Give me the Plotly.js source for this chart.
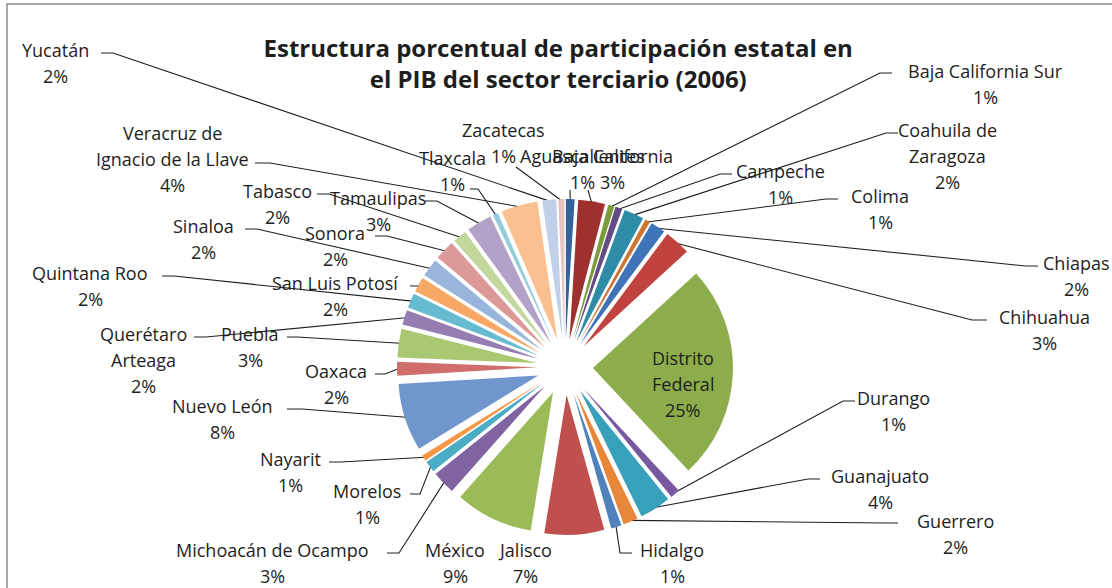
<!DOCTYPE html>
<html><head><meta charset="utf-8">
<script src="https://cdn.plot.ly/plotly-3.0.1.min.js"></script>
<style>html,body{margin:0;padding:0;background:#fff}#chart{width:1112px;height:588px}</style>
</head><body><div id="chart"></div>
<script>
// ---- data ----
const states = ["Aguascalientes","Baja California","Baja California Sur","Campeche","Coahuila de Zaragoza","Colima","Chiapas","Chihuahua","Distrito Federal","Durango","Guanajuato","Guerrero","Hidalgo","Jalisco","México","Michoacán de Ocampo","Morelos","Nayarit","Nuevo León","Oaxaca","Puebla","Querétaro Arteaga","Quintana Roo","San Luis Potosí","Sinaloa","Sonora","Tabasco","Tamaulipas","Tlaxcala","Veracruz de Ignacio de la Llave","Yucatán","Zacatecas"];
const shares = [1.0,3.1,0.7,0.8,2.3,0.6,1.7,3.0,24.9,1.1,3.6,1.7,1.2,6.9,9.0,2.7,1.3,0.7,7.8,1.6,3.3,1.7,1.7,1.7,2.1,2.3,1.6,2.9,0.6,4.2,1.6,0.7];
const chartTitle = ["Estructura porcentual de participación estatal en","el PIB del sector terciario (2006)"];

// ---- styles ----
const colors = ["#34629a","#9e302d","#7b9b3c","#634c82","#2f8ca6","#cc7632",
                "#3f74b8","#c0433f","#8dad4d","#7659a0","#38a0bb","#e8863a",
                "#4f81bd","#c0504d","#9bbb59","#8064a2","#4bacc6","#f79646",
                "#7096cd","#d06e6c","#aac772","#957db2","#67bbd1","#f8a765",
                "#9ab5dc","#dc9997","#c3d69b","#b3a2c7","#93cddd","#fac090",
                "#bfd0e8","#e8c4c2"];
const W = 1112, H = 588;
const PIE = {cx: 565, cy: 367, r: 140, pull: 0.2};
const pulls = states.map(() => PIE.pull);
// label layout: [centerX, firstLineY, anchorX, anchorY, elbowDx, wordsPerLine]  (anchorX null = no leader)
const labelLayout = [
  [582,156, 570,190, 0],
  [612,156, 588,190, 0],
  [985,71, 892,73, -12],
  [780,171, 732,174, -12],
  [947,130, 898,133, -12, [2,1]],
  [880,196, 838,199, -12],
  [1076,263, 1038,266, -12],
  [1044,317, 987,320, -15],
  null,
  [893,398, 855,401, -12],
  [880,476, 820,479, -12],
  [955,521, 898,523, -12],
  [672,550, 632,553, -12],
  [525,550, null],
  [455,550, null],
  [272,550, 387,553, 12],
  [367,491, 410,494, 10],
  [290,459, 329,462, 12],
  [222,406, 287,409, 15],
  [336,371, 375,374, 10],
  [250,334, 287,337, 10],
  [143,334, 194,337, 12, [1,1]],
  [90,273, 162,276, 12],
  [335,283, 410,286, 8],
  [203,226, 245,229, 12],
  [335,233, 375,236, 12],
  [277,191, 317,194, 12],
  [378,198, 425,201, 12],
  [452,158, 470,189, 8],
  [172,133, 255,163, 15, [2,4]],
  [55,50, 101,53, 12],
  [503,130, 516,167, 0]
];
const DF_TEXT = {radius: 0.62, dy: 12, dx: 3};
const LINE_GAP = 26;
const LABEL_FONT = {family: "'Open Sans', Lato, sans-serif", size: 18, color: "#1e1e1e"};

// ---- geometry ----
const total = shares.reduce((a, b) => a + b, 0);
const maxPull = Math.max(...pulls);
const box = PIE.r * (2 + 2 * maxPull);
const domain = {x: [(PIE.cx - box / 2) / W, (PIE.cx + box / 2) / W],
                y: [1 - (PIE.cy + box / 2) / H, 1 - (PIE.cy - box / 2) / H]};
let cum = 0;
const mids = shares.map(v => { const m = (cum + v / 2) / total * 2 * Math.PI; cum += v; return m; });
const pct = shares.map(v => Math.round(v / total * 100) + "%");
function polar(i, rad) {
  const a = mids[i];
  return [PIE.cx + rad * Math.sin(a), PIE.cy - rad * Math.cos(a)];
}
function wrapName(name, spec) {
  if (!spec) return [name];
  const w = name.split(" "); const out = []; let k = 0;
  spec.forEach(n => { out.push(w.slice(k, k + n).join(" ")); k += n; });
  return out;
}

const traces = [{
  type: "pie", labels: states, values: shares, sort: false, direction: "clockwise", rotation: 0,
  marker: {colors: colors, line: {width: 0}}, pull: pulls, textinfo: "none",
  hoverinfo: "label+percent", domain: domain, showlegend: false
}];
const annotations = [];
states.forEach((s, i) => {
  const L = labelLayout[i];
  if (!L) {
    const p = polar(i, PIE.r * PIE.pull + PIE.r * DF_TEXT.radius);
    const lines = wrapName(s, [1, 1]).concat([pct[i]]);
    lines.forEach((t, j) => annotations.push({xref: "paper", yref: "paper", x: (p[0] + DF_TEXT.dx) / W,
      y: 1 - (p[1] + DF_TEXT.dy + (j - (lines.length - 1) / 2) * LINE_GAP) / H, text: t, showarrow: false,
      xanchor: "center", yanchor: "middle", font: LABEL_FONT}));
    return;
  }
  const lines = wrapName(s, L[5]).concat([pct[i]]);
  lines.forEach((t, j) => annotations.push({xref: "paper", yref: "paper", x: L[0] / W,
    y: 1 - (L[1] + j * LINE_GAP) / H, text: t, showarrow: false,
    xanchor: "center", yanchor: "middle", font: LABEL_FONT}));
  if (L[2] !== null && L[2] !== undefined) {
    const end = polar(i, PIE.r * PIE.pull + PIE.r * 0.99);
    traces.push({type: "scatter", mode: "lines", xaxis: "x", yaxis: "y",
      x: [L[2], L[2] + L[4], end[0]], y: [L[3], L[3], end[1]],
      line: {color: "#1e1e1e", width: 1.1}, hoverinfo: "skip", showlegend: false});
  }
});

const layout = {
  width: W, height: H, margin: {l: 0, r: 0, t: 0, b: 0},
  paper_bgcolor: "#ffffff", plot_bgcolor: "rgba(0,0,0,0)", showlegend: false,
  title: {text: "<b>" + chartTitle.join("</b><br><b>") + "</b>", x: 0.502, xanchor: "center",
          y: 1 - 57 / H, yanchor: "middle",
          font: {family: "'Open Sans', Lato, sans-serif", size: 24, color: "#1e1e1e"}},
  xaxis: {range: [0, W], visible: false, fixedrange: true},
  yaxis: {range: [H, 0], visible: false, fixedrange: true},
  annotations: annotations,
  shapes: [{type: "rect", xref: "paper", yref: "paper", x0: 7 / W, x1: 1.02, y0: -0.02, y1: 1 - 4 / H,
            line: {color: "#8c8c8c", width: 1.5}}]
};
Plotly.newPlot("chart", traces, layout, {displayModeBar: false, staticPlot: true});
</script>
</body></html>
